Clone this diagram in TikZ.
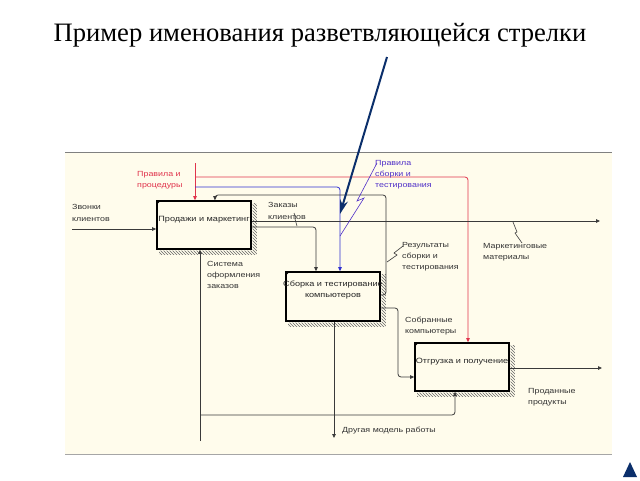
\documentclass[tikz,border=0pt]{standalone}
\usepackage{fontspec}
\setmainfont{Liberation Serif}
\newfontfamily\diag[FakeStretch=1.2]{Liberation Sans}
\usetikzlibrary{arrows.meta,patterns}
\definecolor{cream}{HTML}{FFFCEC}
\definecolor{idefred}{HTML}{E0344C}
\definecolor{idefblue}{HTML}{3030D0}
\definecolor{lblblue}{HTML}{5030C8}
\definecolor{navy}{HTML}{0B2F6B}
\definecolor{lineg}{HTML}{3A3A3A}
\newcommand\boxshade[1]{%
  \fill[pattern=north west lines,pattern color=black!60]
    ([xshift=0.8pt,yshift=-3pt]#1.north east) rectangle ([xshift=5pt,yshift=-5pt]#1.south east)
    ([xshift=3pt,yshift=-0.8pt]#1.south west) rectangle ([xshift=5pt,yshift=-5pt]#1.south east);
  \fill[black] ([xshift=1pt,yshift=-1pt]#1.north west) -- ++(3pt,0) -- ++(-3pt,-3pt) -- cycle;
}
\begin{document}
\begin{tikzpicture}[x=1pt,y=-1pt,
  box/.style={draw=black,line width=1.6pt,fill=cream,minimum width=94pt,minimum height=48pt,inner sep=0pt,
    font=\diag\fontsize{7.6}{11}\selectfont,align=center,text=black!85},
  flow/.style={draw=lineg,line width=0.8pt,rounded corners=3pt},
  tip/.style={-{Triangle[length=4pt,width=3.5pt]}},
  lbl/.style={font=\diag\fontsize{7.4}{11.2}\selectfont,align=left,inner sep=0pt,anchor=west,text=black!80},
  squig/.style={draw=lineg,line width=0.6pt},
]
\useasboundingbox (0,0) rectangle (640,480);
\fill[white] (0,0) rectangle (640,480);
\fill[cream] (65,152) rectangle (612,454);
\draw[gray,line width=1pt] (65,152) -- (612,152);
\draw[gray!70,line width=0.8pt] (65,454) -- (612,454);

\node (title) at (320,35) {\fontsize{26.6}{30}\selectfont Пример именования разветвляющейся стрелки};

% boxes
\node[box] (b1) at (204,225) {\makebox[0pt]{Продажи и маркетинг}\\[2pt]};
\node[box,minimum height=49pt] (b2) at (333,296.5) {\makebox[0pt]{Сборка и тестирование}\\\makebox[0pt]{компьютеров}\\[3pt]};
\node[box] (b3) at (462,367) {\makebox[0pt]{Отгрузка и получение}\\[1pt]};
\boxshade{b1}
\boxshade{b2}
\boxshade{b3}

% coordinates
\coordinate (zin) at (72,229);
\coordinate (rtop) at (195,163);
\coordinate (rsplit) at (195,177);
\coordinate (rcorner) at (468,177);
\coordinate (bsplit) at (195,187);
\coordinate (bcorner) at (340,187);
\coordinate (zkcorner) at (316,227);
\coordinate (mout) at (600,221);
\coordinate (fb1) at (386,295);
\coordinate (fb2) at (386,195);
\coordinate (fb3) at (215,195);
\coordinate (sc1) at (398,308);
\coordinate (sc2) at (398,377);
\coordinate (pout) at (602,368);
\coordinate (mbot) at (200,441);
\coordinate (msplit) at (200,415);
\coordinate (mcorner) at (455,415);
\coordinate (dout) at (334,438);
\coordinate (nstart) at (387,57);
\coordinate (ntip) at (340,214);

% connectors
\draw[flow,tip] (zin) -- (zin -| b1.west);
\draw[flow,draw=idefred,tip] (rtop) -- (rtop |- b1.north);
\draw[flow,draw=idefred,tip] (rsplit) -- (rcorner) -- (rcorner |- b3.north);
\draw[flow,draw=idefblue,tip] (bsplit) -- (bcorner) -- (bcorner |- b2.north);
\draw[flow,tip] (zkcorner -| b1.east) -- (zkcorner) -- (zkcorner |- b2.north);
\draw[flow,tip] (mout -| b1.east) -- (mout);
\draw[flow,tip] (fb1 -| b2.east) -- (fb1) -- (fb2) -- (fb3) -- (fb3 |- b1.north);
\draw[flow,tip] (sc1 -| b2.east) -- (sc1) -- (sc2) -- (sc2 -| b3.west);
\draw[flow,tip] (pout -| b3.east) -- (pout);
\draw[flow,tip] (mbot) -- (mbot |- b1.south);
\draw[flow,tip] (msplit) -- (mcorner) -- (mcorner |- b3.south);
\draw[flow,tip] (dout |- b2.south) -- (dout);

% labels
\node[lbl] (lzv) at (72,213) {Звонки\\клиентов};
\node[lbl,text=idefred] (lpr) at (137,180) {Правила и\\процедуры};
\node[lbl] (lzk) at (268,211) {Заказы\\клиентов};
\node[lbl,text=lblblue] (lps) at (375,175) {Правила\\сборки и\\тестирования};
\node[lbl] (lrs) at (402,257) {Результаты\\сборки и\\тестирования};
\node[lbl] (lmm) at (483,252) {Маркетинговые\\материалы};
\node[lbl] (lso) at (207,275) {Система\\оформления\\заказов};
\node[lbl] (lsk) at (405,326) {Собранные\\компьютеры};
\node[lbl] (lpp) at (528,397) {Проданные\\продукты};
\node[lbl] (ldm) at (342,431) {Другая модель работы};

% squiggles
\draw[draw=lblblue,line width=0.6pt] (377,163) -- (357,201) -- (364,198) -- (340,236);
\draw[squig] (403,246) -- (394,253) -- (397,255) -- (387,262);
\draw[squig] (513,222) -- (517,232) -- (515,233) -- (522,243);
\draw[squig] (294,213) -- (296,218) -- (295,219) -- (297,226);

% annotation arrow
\draw[navy,line width=2pt,-{Stealth[length=14pt,width=8pt]}] (nstart) -- (ntip);

% nav triangle
\fill[navy] (623,477) -- (637,477) -- (630,462) -- cycle;
\end{tikzpicture}
\end{document}
